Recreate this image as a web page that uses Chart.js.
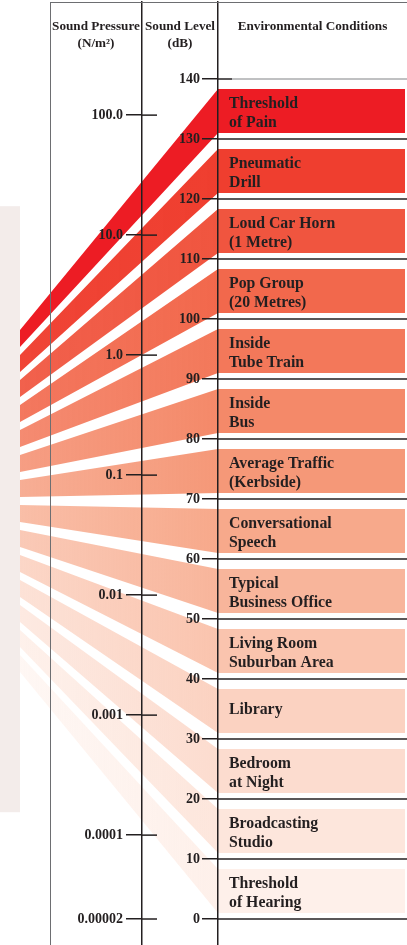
<!DOCTYPE html>
<html>
<head>
<meta charset="utf-8">
<script src="https://cdn.jsdelivr.net/npm/chart.js@4"></script>
<style>
  html, body { margin: 0; padding: 0; background: #fff; }
  #wrap { width: 407px; height: 945px; position: relative; }
</style>
</head>
<body>
<div id="wrap"><canvas id="soundChart"></canvas></div>
<script>
// environmental conditions, loudest first
var conditions = [
    ["Threshold", "of Pain"],
    ["Pneumatic", "Drill"],
    ["Loud Car Horn", "(1 Metre)"],
    ["Pop Group", "(20 Metres)"],
    ["Inside", "Tube Train"],
    ["Inside", "Bus"],
    ["Average Traffic", "(Kerbside)"],
    ["Conversational", "Speech"],
    ["Typical", "Business Office"],
    ["Living Room", "Suburban Area"],
    ["Library"],
    ["Bedroom", "at Night"],
    ["Broadcasting", "Studio"],
    ["Threshold", "of Hearing"]
];
var levelHigh = [140, 130, 120, 110, 100, 90, 80, 70, 60, 50, 40, 30, 20, 10];
var levelLow = [130, 120, 110, 100, 90, 80, 70, 60, 50, 40, 30, 20, 10, 0];
var dbTicks = [0, 10, 20, 30, 40, 50, 60, 70, 80, 90, 100, 110, 120, 130, 140];
var pressureTicks = [0.00002, 0.0001, 0.001, 0.01, 0.1, 1, 10, 100];
var pressureLabels = ["0.00002", "0.0001", "0.001", "0.01", "0.1", "1.0", "10.0", "100.0"];
var headers = [["Sound Pressure", "(N/m\u00b2)"], ["Sound Level", "(dB)"], ["Environmental Conditions"]];

var bandColors = ["#ed1c24", "#ef3e2f", "#f0553f", "#f2684c", "#f3785a", "#f48969",
    "#f59878", "#f7a98b", "#f8b59b", "#fac4ae", "#fbd2c1", "#fcdccf", "#fde6dc", "#fef0ea"];

// layout: x runs in page columns 0..407, y in dB
var X_EDGE = 20, X_FRAME = 50, X_PA = 142, X_DB = 218, X_END = 405, X_TEXT = 229;
var DB_LABEL_GAP = 18, PA_LABEL_GAP = 19;
var DB_MIN = -26 / 6, DB_MAX = DB_MIN + 943 / 6;
var P_REF = 0.00002;
var P_MIN = P_REF * Math.pow(10, DB_MIN / 20), P_MAX = P_REF * Math.pow(10, DB_MAX / 20);
var FAN_TOP = 98.17, FAN_STEP = 25 / 6, FAN_WIDTH = 17 / 6;
var INSET_TOP = 10 / 6, INSET_BOTTOM = 1;

var SERIF = "'Liberation Serif', 'Times New Roman', serif";
var INK = '#231f20';

function fade(hex, a) {
    var n = parseInt(hex.slice(1), 16);
    return 'rgba(' + (n >> 16) + ',' + ((n >> 8) & 255) + ',' + (n & 255) + ',' + a + ')';
}

function wedgeFill(i) {
    return function (context) {
        var chart = context.chart;
        if (!chart.chartArea) return bandColors[i];
        var xs = chart.scales.x;
        var g = chart.ctx.createLinearGradient(xs.getPixelForValue(X_EDGE), 0, xs.getPixelForValue(X_DB), 0);
        g.addColorStop(0, fade(bandColors[i], 1 - i * 0.035));
        g.addColorStop(1, bandColors[i]);
        return g;
    };
}

var datasets = [];
conditions.forEach(function (name, i) {
    var leftTop = FAN_TOP - i * FAN_STEP;
    var top = levelHigh[i] - INSET_TOP;
    var bottom = levelLow[i] + INSET_BOTTOM;
    datasets.push({
        label: name.join(' '),
        yAxisID: 'db',
        data: [{x: X_EDGE, y: leftTop}, {x: X_DB, y: top}, {x: X_END, y: top}],
        fill: '+1',
        backgroundColor: wedgeFill(i),
        borderColor: 'transparent',
        borderWidth: 0,
        pointRadius: 0
    });
    datasets.push({
        label: '',
        yAxisID: 'db',
        data: [{x: X_EDGE, y: leftTop - FAN_WIDTH}, {x: X_DB, y: bottom}, {x: X_END, y: bottom}],
        fill: false,
        borderColor: 'transparent',
        borderWidth: 0,
        pointRadius: 0
    });
});

var diagramPlugin = {
    id: 'diagram',
    beforeDraw: function (chart) {
        var ctx = chart.ctx, db = chart.scales.db, xs = chart.scales.x;
        var top = db.getPixelForValue(118.8), bottom = db.getPixelForValue(17.8);
        ctx.save();
        ctx.fillStyle = '#f3ecea';
        ctx.fillRect(0, top, xs.getPixelForValue(X_EDGE), bottom - top);
        ctx.restore();
    },
    afterDraw: function (chart) {
        var ctx = chart.ctx, db = chart.scales.db, pa = chart.scales.pa, xs = chart.scales.x;
        var area = chart.chartArea;
        var xDb = xs.getPixelForValue(X_DB), xPa = xs.getPixelForValue(X_PA);
        ctx.save();

        // top frame line
        ctx.strokeStyle = '#6d6e71';
        ctx.lineWidth = 1;
        ctx.beginPath();
        ctx.moveTo(xs.getPixelForValue(X_FRAME), area.top + 0.5);
        ctx.lineTo(area.right, area.top + 0.5);
        ctx.stroke();

        // right half of the dB ticks, running across the conditions column
        dbTicks.forEach(function (v) {
            var y = db.getPixelForValue(v);
            ctx.strokeStyle = INK;
            ctx.lineWidth = 1.5;
            ctx.beginPath();
            ctx.moveTo(xDb, y);
            ctx.lineTo(v === 140 ? xDb + 14 : area.right, y);
            ctx.stroke();
            if (v === 140) {
                ctx.strokeStyle = '#808285';
                ctx.lineWidth = 1;
                ctx.beginPath();
                ctx.moveTo(xDb + 14, y);
                ctx.lineTo(area.right, y);
                ctx.stroke();
            }
        });
        ctx.strokeStyle = INK;
        ctx.lineWidth = 1.5;
        pressureTicks.forEach(function (v) {
            var y = pa.getPixelForValue(v);
            ctx.beginPath();
            ctx.moveTo(xPa, y);
            ctx.lineTo(xPa + 15, y);
            ctx.stroke();
        });

        // column headers
        var cols = [[X_FRAME, X_PA], [X_PA, X_DB], [X_DB, 407]];
        ctx.fillStyle = INK;
        ctx.textAlign = 'center';
        ctx.textBaseline = 'alphabetic';
        ctx.font = 'bold 13.2px ' + SERIF;
        headers.forEach(function (lines, c) {
            var cx = (xs.getPixelForValue(cols[c][0]) + xs.getPixelForValue(cols[c][1])) / 2;
            lines.forEach(function (t, k) {
                ctx.fillText(t, cx, 30 + k * 17);
            });
        });

        // condition names inside the bands
        ctx.textAlign = 'left';
        ctx.font = 'bold 15.8px ' + SERIF;
        conditions.forEach(function (lines, i) {
            var mid = (db.getPixelForValue(levelHigh[i] - INSET_TOP) + db.getPixelForValue(levelLow[i] + INSET_BOTTOM)) / 2;
            var x = xs.getPixelForValue(X_TEXT);
            if (lines.length === 1) {
                ctx.fillText(lines[0], x, mid + 3);
            } else {
                ctx.fillText(lines[0], x, mid - 3);
                ctx.fillText(lines[1], x, mid + 16);
            }
        });
        ctx.restore();
    }
};

var tickFont = {family: SERIF, weight: 'bold', size: 14};

function noPadding(s) {
    s.paddingTop = 0;
    s.paddingBottom = 0;
}
function setTicks(values) {
    return function (s) { s.ticks = values.map(function (v) { return {value: v}; }); };
}

// an axis line with its tick marks
function axisLine(type, min, max, at, values) {
    return {
        type: type, axis: 'y', min: min, max: max, position: {x: at},
        afterBuildTicks: setTicks(values), afterFit: noPadding,
        ticks: {display: false, autoSkip: false},
        grid: {drawOnChartArea: false, tickLength: 15, color: INK, lineWidth: 1.5, z: 1},
        border: {color: INK, width: 1.5, z: 1}
    };
}
// the tick labels of that axis, set a little to its left
function axisLabels(type, min, max, at, values, labels) {
    return {
        type: type, axis: 'y', min: min, max: max, position: {x: at},
        afterBuildTicks: setTicks(values), afterFit: noPadding,
        ticks: {
            font: tickFont, color: INK, autoSkip: false, padding: 0, z: 1,
            callback: function (v, i) { return labels[i]; }
        },
        grid: {display: false},
        border: {display: false}
    };
}

new Chart(document.getElementById('soundChart'), {
    type: 'line',
    data: {datasets: datasets},
    options: {
        responsive: true,
        maintainAspectRatio: false,
        animation: false,
        layout: {padding: {top: 2, left: 0, right: 0, bottom: 0}},
        plugins: {legend: {display: false}, tooltip: {enabled: false}},
        elements: {line: {tension: 0}},
        scales: {
            x: {type: 'linear', min: 0, max: 407, display: false},
            db: axisLine('linear', DB_MIN, DB_MAX, X_DB, dbTicks),
            dbText: axisLabels('linear', DB_MIN, DB_MAX, X_DB - DB_LABEL_GAP, dbTicks, dbTicks.map(String)),
            pa: axisLine('logarithmic', P_MIN, P_MAX, X_PA, pressureTicks),
            paText: axisLabels('logarithmic', P_MIN, P_MAX, X_PA - PA_LABEL_GAP, pressureTicks, pressureLabels),
            frame: {
                type: 'linear', axis: 'y', min: 0, max: 1,
                position: {x: X_FRAME}, afterFit: noPadding,
                ticks: {display: false},
                grid: {display: false},
                border: {color: '#6d6e71', width: 1, z: 1}
            }
        }
    },
    plugins: [diagramPlugin]
});
</script>
</body>
</html>
